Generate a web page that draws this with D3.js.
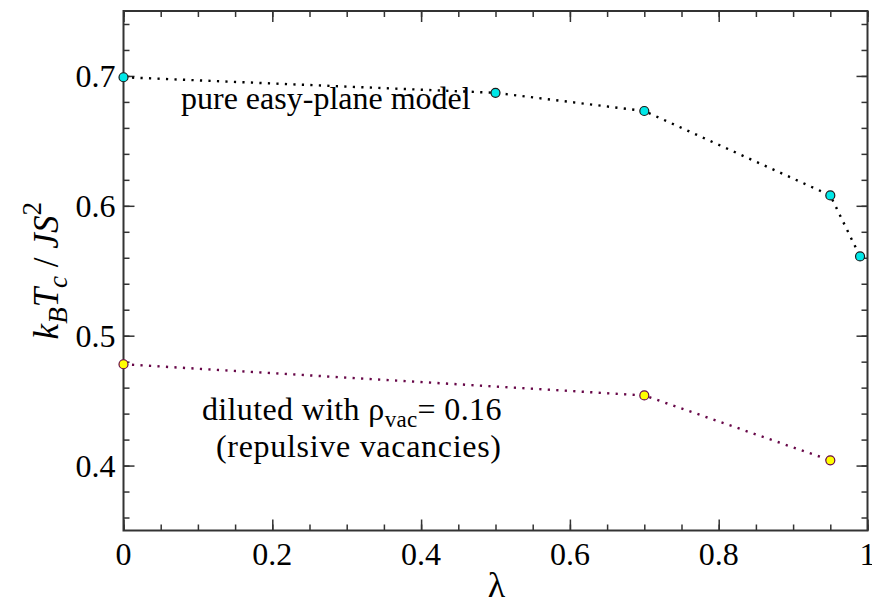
<!DOCTYPE html>
<html>
<head>
<meta charset="utf-8">
<script src="https://cdn.jsdelivr.net/npm/d3@7"></script>
<style>
  body { margin: 0; background: #fff; }
  svg { display: block; }
</style>
</head>
<body>
<div id="chart"></div>
<script>
// data
var lambdaPure = [0, 0.5, 0.7, 0.95, 0.99];
var tcPure     = [0.699, 0.687, 0.673, 0.608, 0.561];
var lambdaDil  = [0, 0.7, 0.95];
var tcDil      = [0.478, 0.454, 0.404];
var xTicks = [0, 0.2, 0.4, 0.6, 0.8, 1];
var xTickLabels = ["0", "0.2", "0.4", "0.6", "0.8", "1"];
var yTicks = [0.4, 0.5, 0.6, 0.7];
var yTickLabels = ["0.4", "0.5", "0.6", "0.7"];

var serif = "Liberation Serif";
var width = 872, height = 605;
var margin = {left: 123.5, right: 4.5, top: 11, bottom: 74.5};
var iw = width - margin.left - margin.right,
    ih = height - margin.top - margin.bottom;

var svg = d3.select("#chart").append("svg")
    .attr("width", width)
    .attr("height", height);

var x = d3.scaleLinear().domain([0, 1]).range([0, iw]);
var y = d3.scaleLinear().domain([0.35, 0.75]).range([ih, 0]);

var g = svg.append("g").attr("transform", "translate(" + margin.left + "," + margin.top + ")");

var axisColor = "#333";
var xMinor = d3.range(0, 1.0001, 0.05);
var yMinor = d3.range(0.36, 0.7501, 0.02);

// inward ticks on all four sides, minor then major
var sides = [
    {ax: d3.axisBottom(x), t: "translate(0," + ih + ")", minor: xMinor, major: xTicks},
    {ax: d3.axisTop(x), t: "translate(0,0)", minor: xMinor, major: xTicks},
    {ax: d3.axisLeft(y), t: "translate(0,0)", minor: yMinor, major: yTicks},
    {ax: d3.axisRight(y), t: "translate(" + iw + ",0)", minor: yMinor, major: yTicks}
];
sides.forEach(function(d) {
    [[d.minor, -6], [d.major, -11]].forEach(function(p) {
        var a = g.append("g").attr("transform", d.t)
            .call(d.ax.tickValues(p[0]).tickSizeInner(p[1]).tickSizeOuter(0).tickFormat(""));
        a.select(".domain").remove();
        a.selectAll("line").attr("stroke", axisColor).attr("stroke-width", 1.5);
    });
});

// frame
g.append("rect")
    .attr("width", iw).attr("height", ih)
    .attr("fill", "none").attr("stroke", axisColor).attr("stroke-width", 2);

// tick labels
g.selectAll(".xl").data(xTicks).enter().append("text")
    .attr("x", function(d) { return x(d); })
    .attr("y", ih + 34.5)
    .attr("text-anchor", "middle")
    .attr("font-family", serif)
    .attr("font-size", 32)
    .text(function(d, i) { return xTickLabels[i]; });

g.selectAll(".yl").data(yTicks).enter().append("text")
    .attr("x", -8)
    .attr("y", function(d) { return y(d) + 11; })
    .attr("text-anchor", "end")
    .attr("font-family", serif)
    .attr("font-size", 32)
    .text(function(d, i) { return yTickLabels[i]; });

// axis titles
svg.append("text")
    .attr("x", margin.left + iw / 2 + 1)
    .attr("y", 597)
    .attr("text-anchor", "middle")
    .attr("font-family", serif)
    .attr("font-size", 36)
    .text("λ");

var yl = svg.append("text")
    .attr("transform", "translate(58," + (margin.top + ih / 2) + ") rotate(-90)")
    .attr("text-anchor", "middle")
    .attr("font-family", serif)
    .attr("font-size", 35)
    .attr("font-style", "italic");
yl.append("tspan").text("k");
yl.append("tspan").attr("dy", 9).attr("font-size", 27).text("B");
yl.append("tspan").attr("dy", -9).text("T");
yl.append("tspan").attr("dy", 9).attr("font-size", 27).text("c");
yl.append("tspan").attr("dy", -9).attr("font-style", "normal").text(" / ");
yl.append("tspan").text("JS");
yl.append("tspan").attr("dy", -17).attr("font-size", 27).attr("font-style", "normal").text("2");

// series
var pure = lambdaPure.map(function(d, i) { return [d, tcPure[i]]; });
var dil = lambdaDil.map(function(d, i) { return [d, tcDil[i]]; });
var line = d3.line().x(function(d) { return x(d[0]); }).y(function(d) { return y(d[1]); });

g.append("path").datum(pure)
    .attr("d", line).attr("fill", "none")
    .attr("stroke", "#000").attr("stroke-width", 2.4)
    .attr("stroke-dasharray", "2.2,6.3");
g.append("path").datum(dil)
    .attr("d", line).attr("fill", "none")
    .attr("stroke", "#670748").attr("stroke-width", 2.4)
    .attr("stroke-dasharray", "2.2,6.3");

g.selectAll(".pp").data(pure).enter().append("circle")
    .attr("cx", function(d) { return x(d[0]); })
    .attr("cy", function(d) { return y(d[1]); })
    .attr("r", 4.5)
    .attr("fill", "#00e8e8").attr("stroke", "#1a1a1a").attr("stroke-width", 1.2);
g.selectAll(".dp").data(dil).enter().append("circle")
    .attr("cx", function(d) { return x(d[0]); })
    .attr("cy", function(d) { return y(d[1]); })
    .attr("r", 4.5)
    .attr("fill", "#ffff00").attr("stroke", "#670748").attr("stroke-width", 1.2);

// annotations
svg.append("text")
    .attr("x", 181).attr("y", 109)
    .attr("font-family", serif)
    .attr("font-size", 32)
    .text("pure easy-plane model");

var t1 = svg.append("text")
    .attr("x", 202).attr("y", 420)
    .attr("font-family", serif)
    .attr("font-size", 32)
    .attr("letter-spacing", 0.35);
t1.append("tspan").text("diluted with ρ");
t1.append("tspan").attr("dy", 7).attr("font-size", 23).text("vac");
t1.append("tspan").attr("dy", -7).text("= 0.16");

svg.append("text")
    .attr("x", 216).attr("y", 457)
    .attr("font-family", serif)
    .attr("font-size", 32)
    .attr("letter-spacing", 0.7)
    .text("(repulsive vacancies)");
</script>
</body>
</html>
